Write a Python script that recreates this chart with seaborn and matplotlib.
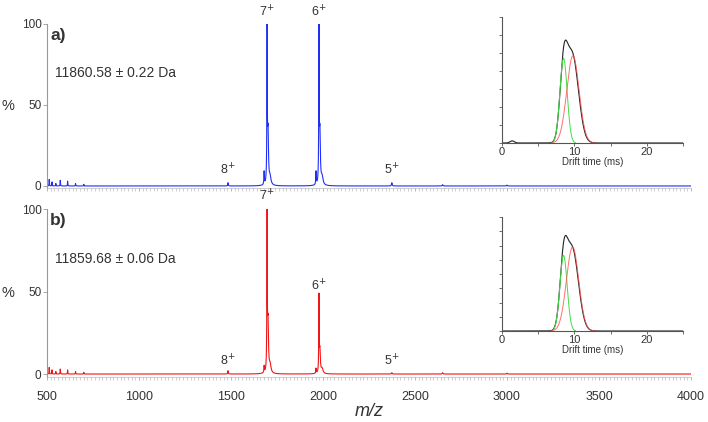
import numpy as np
import pandas as pd
import matplotlib
matplotlib.use("Agg")
import matplotlib.pyplot as plt
import seaborn as sns

sns.set_theme(style="white")
plt.rcParams['font.family'] = ['Liberation Sans', 'DejaVu Sans']

# ---------------- data ----------------
# main spectra: peak centers (m/z), heights (%), half-widths
peaks_a_mz = [512, 527, 548, 572, 612, 655, 700, 1484, 1680, 1696, 1701, 1712, 1962, 1978, 1983, 1995, 2374, 2650, 3000]
peaks_a_h = [4.0, 2.5, 1.5, 3.5, 3.0, 1.5, 1.0, 2.0, 8.0, 100, 32, 5, 8.0, 100, 32, 5, 2.0, 0.8, 0.5]
peaks_a_w = [1.0, 1.0, 1.0, 1.0, 1.0, 1.0, 1.0, 1.5, 1.5, 1.2, 3.0, 6.0, 1.5, 1.2, 3.0, 6.0, 2.0, 2.0, 2.0]

peaks_b_mz = [512, 527, 548, 572, 612, 655, 700, 1484, 1680, 1696, 1701, 1712, 1962, 1978, 1983, 1995, 2374, 2650, 3000]
peaks_b_h = [4.0, 2.5, 1.5, 3.0, 2.5, 1.5, 1.0, 2.0, 4.0, 100, 30, 5, 3.0, 45, 14, 3, 0.8, 0.8, 0.5]
peaks_b_w = [1.0, 1.0, 1.0, 1.0, 1.0, 1.0, 1.0, 1.5, 1.5, 1.2, 3.0, 6.0, 1.5, 1.2, 3.0, 6.0, 2.0, 2.0, 2.0]

charge_labels = ["8$^{+}$", "7$^{+}$", "6$^{+}$", "5$^{+}$"]
charge_mz = [1484, 1696, 1978, 2374]
label_h_a = [5, 103, 103, 5]
label_h_b = [3.5, 103, 49, 3.5]
mass_a = "11860.58 \u00b1 0.22 Da"
mass_b = "11859.68 \u00b1 0.06 Da"

# drift-time insets: gaussian components (center ms, sigma, height)
drift_total_a = [(8.5, 0.5, 3.5), (9.7, 0.85, 4.9), (1.4, 0.3, 0.12)]
drift_green_a = (8.5, 0.5, 4.7)
drift_red_a = (9.8, 0.85, 4.85)
drift_total_b = [(8.5, 0.5, 4.1), (9.7, 0.85, 5.75)]
drift_green_b = (8.5, 0.5, 5.3)
drift_red_b = (9.75, 0.85, 5.9)

x_ticks = [500, 1000, 1500, 2000, 2500, 3000, 3500, 4000]
y_ticks = [0, 50, 100]
drift_ticks = [0, 10, 20]

# ---------------- helpers ----------------
mz = np.arange(500, 4000.5, 0.5)

def spectrum(centers, heights, widths):
    y = np.zeros_like(mz)
    for c, h, w in zip(centers, heights, widths):
        y += h / (1 + ((mz - c) / w) ** 2)
    return np.minimum(y, 100)

dt = np.linspace(0, 25, 800)

def gauss(p):
    c, s, h = p
    return h * np.exp(-0.5 * ((dt - c) / s) ** 2)

fig = plt.figure(figsize=(7.08, 4.22), dpi=100)

W, H = 708, 422
def ax_rect(x0, x1, ytop, ybot):
    return [x0 / W, 1 - ybot / H, (x1 - x0) / W, (ybot - ytop) / H]

grey = "#555555"
txt = "#333333"

def main_panel(rect, y, color, labels_h, mass, tag, show_x):
    ax = fig.add_axes(rect)
    df = pd.DataFrame({"mz": mz, "I": y})
    sns.lineplot(data=df, x="mz", y="I", color=color, lw=0.8, ax=ax, estimator=None)
    ax.set_xlim(500, 4000)
    ax.set_ylim(-1.5, 100)
    for s in ["top", "right"]:
        ax.spines[s].set_visible(False)
    ax.spines["left"].set_color("#999999")
    ax.spines["left"].set_linewidth(0.8)
    ax.spines["bottom"].set_color("#bbbbbb")
    ax.spines["bottom"].set_linewidth(0.5)
    ax.set_yticks(y_ticks)
    ax.set_yticklabels([str(v) for v in y_ticks], color=txt, fontsize=8.5)
    ax.tick_params(axis="y", left=True, length=3, width=0.6, color="#999999", pad=1)
    ax.set_xticks(x_ticks)
    ax.set_xticks(np.arange(500, 4001, 20), minor=True)
    ax.tick_params(axis="x", which="minor", bottom=True, length=2, width=0.4, color="#aaaaaa", direction="out")
    ax.tick_params(axis="x", which="major", bottom=True, length=2.5, width=0.5, color="#999999", direction="out")
    if show_x:
        ax.set_xticklabels([str(v) for v in x_ticks], color=txt, fontsize=9)
        ax.tick_params(axis="x", which="major", pad=8)
        ax.set_xlabel("m/z", style="italic", fontsize=13, color=txt, labelpad=0)
    else:
        ax.set_xticklabels([])
        ax.set_xlabel("")
    ax.set_ylabel("%", rotation=0, fontsize=10.5, color=txt, va="center")
    ax.yaxis.set_label_coords(-0.06, 0.5)
    for lab, x, h in zip(charge_labels, charge_mz, labels_h):
        ax.text(x, h, lab, ha="center", va="bottom", fontsize=9, color=txt)
    ax.text(0.005, 0.93, tag, transform=ax.transAxes, fontsize=12.5, fontweight="bold", color=txt, va="center")
    ax.text(0.012, 0.70, mass, transform=ax.transAxes, fontsize=10, color=txt, va="center")
    return ax

ya = spectrum(peaks_a_mz, peaks_a_h, peaks_a_w)
yb = spectrum(peaks_b_mz, peaks_b_h, peaks_b_w)
main_panel(ax_rect(47, 691, 24, 188.4), ya, "#1f2ff5", label_h_a, mass_a, "a)", False)
main_panel(ax_rect(47, 691, 209, 376.5), yb, "#f01515", label_h_b, mass_b, "b)", True)

def inset(rect, total, green, red, ymax):
    ax = fig.add_axes(rect)
    g = gauss(green)
    r = gauss(red)
    b = sum(gauss(p) for p in total)
    sns.lineplot(x=dt, y=b, color="#222222", lw=0.8, ax=ax, estimator=None)
    sns.lineplot(x=dt, y=np.where(g > 0.02, g, np.nan), color="#44dd44", lw=0.7, ax=ax, estimator=None)
    sns.lineplot(x=dt, y=np.where(r > 0.02, r, np.nan), color="#ff5555", lw=0.7, alpha=0.85, ax=ax, estimator=None)
    ax.set_xlim(0, 25)
    ax.set_ylim(0, ymax)
    for s in ["top", "right"]:
        ax.spines[s].set_visible(False)
    for s in ["left", "bottom"]:
        ax.spines[s].set_color(grey)
        ax.spines[s].set_linewidth(0.8)
    ax.set_yticks(np.arange(0, ymax + 1, 1))
    ax.set_yticklabels([])
    ax.set_xticks(drift_ticks)
    ax.set_xticks([5, 15, 25], minor=True)
    ax.set_xticklabels([str(v) for v in drift_ticks], fontsize=8, color=txt)
    ax.tick_params(axis="both", which="both", left=True, bottom=True, length=2, width=0.6, color=grey, pad=1)
    ax.set_xlabel("Drift time (ms)", fontsize=7, color=txt, labelpad=0)
    ax.set_ylabel("")
    ax.patch.set_alpha(0)
    return ax

inset(ax_rect(502, 683, 17, 143), drift_total_a, drift_green_a, drift_red_a, 7)
inset(ax_rect(502, 683, 217, 331), drift_total_b, drift_green_b, drift_red_b, 8)

fig.savefig("out.png", dpi=100)
